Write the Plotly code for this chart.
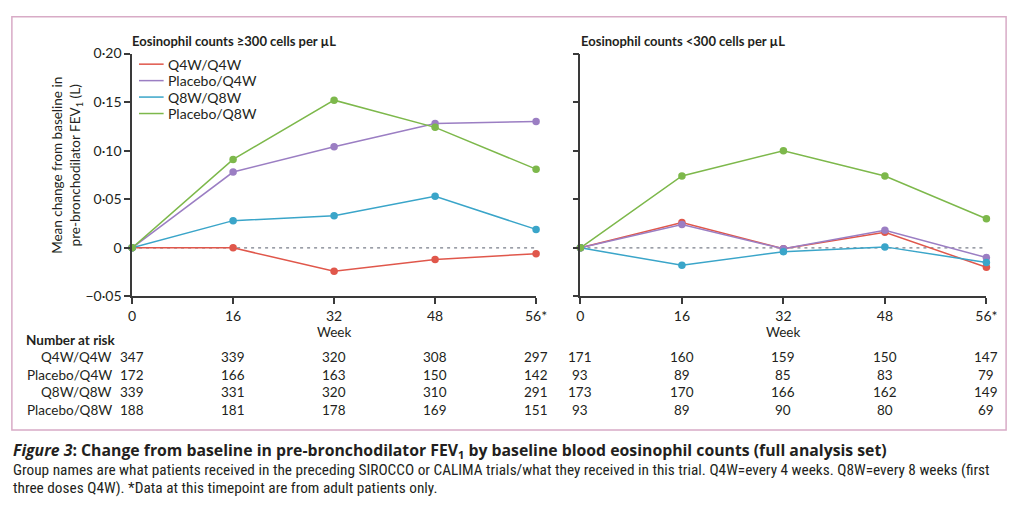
import plotly.graph_objects as go

W, H = 1024, 528

weeks = ["0", "16", "32", "48", "56*"]
groups = ["Q4W/Q4W", "Placebo/Q4W", "Q8W/Q8W", "Placebo/Q8W"]
colors = ["#e0574b", "#9b7ec3", "#3aa5c9", "#7db84b"]

# Eosinophil counts >=300 cells per uL
high_q4w_q4w = [0, 0.000, -0.024, -0.012, -0.006]
high_pbo_q4w = [0, 0.078, 0.104, 0.128, 0.130]
high_q8w_q8w = [0, 0.028, 0.033, 0.053, 0.019]
high_pbo_q8w = [0, 0.091, 0.152, 0.124, 0.081]

# Eosinophil counts <300 cells per uL
low_q4w_q4w = [0, 0.026, -0.001, 0.016, -0.020]
low_pbo_q4w = [0, 0.024, -0.001, 0.018, -0.010]
low_q8w_q8w = [0, -0.018, -0.004, 0.001, -0.015]
low_pbo_q8w = [0, 0.074, 0.100, 0.074, 0.030]

# Number at risk
risk_high = {
    "Q4W/Q4W": [347, 339, 320, 308, 297],
    "Placebo/Q4W": [172, 166, 163, 150, 142],
    "Q8W/Q8W": [339, 331, 320, 310, 291],
    "Placebo/Q8W": [188, 181, 178, 169, 151],
}
risk_low = {
    "Q4W/Q4W": [171, 160, 159, 150, 147],
    "Placebo/Q4W": [93, 89, 85, 83, 79],
    "Q8W/Q8W": [173, 170, 166, 162, 149],
    "Placebo/Q8W": [93, 89, 90, 80, 69],
}

ytick_vals = [-0.05, 0, 0.05, 0.10, 0.15, 0.20]
ytick_text = ["\u22120\u00b705", "0", "0\u00b705", "0\u00b710", "0\u00b715", "0\u00b720"]

FONT = "Lato, 'Open Sans', sans-serif"
TXT = "#231f20"

def px_x(p):
    return p / W

def px_y(p):
    return 1 - p / H

fig = go.Figure()

high = [high_q4w_q4w, high_pbo_q4w, high_q8w_q8w, high_pbo_q8w]
low = [low_q4w_q4w, low_pbo_q4w, low_q8w_q8w, low_pbo_q8w]

for name, col, ys in zip(groups, colors, high):
    fig.add_trace(go.Scatter(x=weeks, y=ys, mode="lines+markers", name=name,
                             line=dict(color=col, width=1.5),
                             marker=dict(color=col, size=7.5),
                             showlegend=False, cliponaxis=False,
                             xaxis="x", yaxis="y"))
for name, col, ys in zip(groups, colors, low):
    fig.add_trace(go.Scatter(x=weeks, y=ys, mode="lines+markers", name=name,
                             line=dict(color=col, width=1.5),
                             marker=dict(color=col, size=7.5),
                             showlegend=False, cliponaxis=False,
                             xaxis="x2", yaxis="y2"))

axis_common = dict(showgrid=False, zeroline=False, showline=True, linecolor="#3a3a3a",
                   linewidth=1.5, ticks="outside", ticklen=6, tickwidth=1.5,
                   tickcolor="#3a3a3a", tickfont=dict(size=14, color=TXT, family=FONT))

ydom = [px_y(297), px_y(46)]
fig.update_layout(
    width=W, height=H, autosize=False,
    margin=dict(l=0, r=0, t=0, b=0),
    paper_bgcolor="white", plot_bgcolor="white",
    font=dict(family=FONT, color=TXT),
    showlegend=False,
    xaxis=dict(domain=[px_x(130), px_x(540)], type="category", range=[0, 4],
               anchor="y", **axis_common),
    yaxis=dict(domain=ydom, range=[-0.05, 0.20], tickvals=ytick_vals, ticktext=ytick_text,
               anchor="x", **axis_common),
    xaxis2=dict(domain=[px_x(585), px_x(997)], type="category", range=[0, 4],
                anchor="y2", **axis_common),
    yaxis2=dict(domain=ydom, range=[-0.05, 0.20], tickvals=ytick_vals, showticklabels=False,
                anchor="x2", **axis_common),
)

# zero reference lines
for xr, yr in (("x", "y"), ("x2", "y2")):
    fig.add_shape(type="line", xref=xr, yref=yr, x0=0, x1=4, y0=0, y1=0,
                  line=dict(color="#7a7f8a", width=1.2, dash="3px,4px"), layer="below")

# outer border
fig.add_shape(type="rect", xref="paper", yref="paper",
              x0=px_x(8), x1=px_x(1017), y0=px_y(435), y1=px_y(8),
              line=dict(color="#d8abc6", width=1.5))

ann = []
# legend (drawn manually: line-only swatches)
leg_y = [57, 74, 91, 108]
for g, col, ly in zip(groups, colors, leg_y):
    fig.add_shape(type="line", xref="paper", yref="paper",
                  x0=px_x(137), x1=px_x(162), y0=px_y(ly), y1=px_y(ly),
                  line=dict(color=col, width=1.5))
    ann.append(dict(x=px_x(164), y=px_y(ly), xref="paper", yref="paper", xanchor="left",
                    yanchor="middle", showarrow=False, text=g,
                    font=dict(size=14, color=TXT, family=FONT)))
# panel titles
ann.append(dict(x=px_x(128), y=px_y(33), xref="paper", yref="paper", xanchor="left",
                yanchor="middle", showarrow=False,
                text="<b>Eosinophil counts \u2265300 cells per \u00b5L</b>",
                font=dict(size=13, color=TXT, family=FONT)))
ann.append(dict(x=px_x(584), y=px_y(33), xref="paper", yref="paper", xanchor="left",
                yanchor="middle", showarrow=False,
                text="<b>Eosinophil counts <300 cells per \u00b5L</b>",
                font=dict(size=13, color=TXT, family=FONT)))
# y axis title
ann.append(dict(x=px_x(64), y=px_y(162), xref="paper", yref="paper", xanchor="center",
                yanchor="middle", showarrow=False, textangle=-90,
                text="Mean change from baseline in<br>pre-bronchodilator FEV<sub>1</sub> (L)",
                font=dict(size=13.5, color=TXT, family=FONT)))
# Week labels
for xr in ("x", "x2"):
    ann.append(dict(x=2, y=px_y(334), xref=xr, yref="paper", xanchor="center",
                    yanchor="middle", showarrow=False, text="Week",
                    font=dict(size=13.5, color=TXT, family=FONT)))
# Number at risk
ann.append(dict(x=px_x(20), y=px_y(342), xref="paper", yref="paper", xanchor="left",
                yanchor="middle", showarrow=False, text="<b>Number at risk</b>",
                font=dict(size=13.5, color=TXT, family=FONT)))
row_y = [360, 378, 396, 414]
for g, ry in zip(groups, row_y):
    ann.append(dict(x=px_x(112), y=px_y(ry), xref="paper", yref="paper", xanchor="right",
                    yanchor="middle", showarrow=False, text=g,
                    font=dict(size=13.5, color=TXT, family=FONT)))
    for xr, tbl in (("x", risk_high), ("x2", risk_low)):
        for i, v in enumerate(tbl[g]):
            ann.append(dict(x=i, y=px_y(ry), xref=xr, yref="paper", xanchor="center",
                            yanchor="middle", showarrow=False, text=str(v),
                            font=dict(size=13.5, color=TXT, family=FONT)))
# caption
CAP = "'Liberation Sans Narrow', 'Roboto Condensed', Roboto, sans-serif"
ann.append(dict(x=px_x(7), y=px_y(456), xref="paper", yref="paper", xanchor="left",
                yanchor="middle", showarrow=False,
                text="<b><i>Figure 3</i>: Change from baseline in pre-bronchodilator FEV<sub>1</sub> by baseline blood eosinophil counts (full analysis set)</b>",
                font=dict(size=15.8, color=TXT, family="'Open Sans', Lato, sans-serif")))
ann.append(dict(x=px_x(7), y=px_y(476), xref="paper", yref="paper", xanchor="left",
                yanchor="middle", showarrow=False,
                text="Group names are what patients received in the preceding SIROCCO or CALIMA trials/what they received in this trial. Q4W=every 4 weeks. Q8W=every 8 weeks (first",
                font=dict(size=15.3, color=TXT, family=CAP)))
ann.append(dict(x=px_x(7), y=px_y(495), xref="paper", yref="paper", xanchor="left",
                yanchor="middle", showarrow=False,
                text="three doses Q4W). *Data at this timepoint are from adult patients only.",
                font=dict(size=15.3, color=TXT, family=CAP)))

fig.update_layout(annotations=ann)
fig.write_html("out.html")
